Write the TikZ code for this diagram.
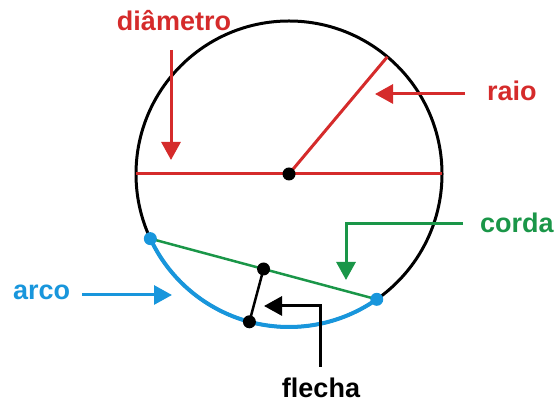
\documentclass[tikz,border=0pt]{standalone}
\usepackage{fontspec}
\setmainfont{Liberation Sans}
\usepackage{tikz}
\usetikzlibrary{arrows.meta,calc}
\definecolor{DiamRed}{RGB}{213,43,43}
\definecolor{ChordGreen}{RGB}{26,150,72}
\definecolor{ArcBlue}{RGB}{24,150,220}
\newcommand{\bigdot}[2]{%
    \fill[#1] (#2) circle (6.5);
}

\begin{document}
\begin{tikzpicture}[x=1pt,y=1pt,
        word/.style={font=\fontsize{27}{30}\selectfont\bfseries,inner sep=0pt},
        pointer/.style={line width=3pt,-{Triangle[length=18pt,width=19pt]}}]
    \useasboundingbox (0,0) rectangle (559,403);
    % circle and its parts
    \coordinate (O) at (289,229);
    \coordinate (W) at ($(O)+(180:153)$);
    \coordinate (E) at ($(O)+(0:153)$);
    \coordinate (R) at ($(O)+(50:153)$);
    \coordinate (A) at ($(O)+(205:153)$);
    \coordinate (B) at ($(O)+(305:153)$);
    \coordinate (M) at ($(A)!0.5!(B)$);
    \coordinate (N) at ($(O)+(255:153)$);
    \draw[line width=3pt] (O) circle (153);
    \draw[DiamRed,line width=3pt] (W) -- (E);
    \draw[DiamRed,line width=3pt] (O) -- (R);
    \draw[ArcBlue,line width=4pt] (A) arc (205:305:153);
    \draw[ChordGreen,line width=2.5pt] (A) -- (B);
    \draw[line width=2.5pt] (M) -- (N);
    \bigdot{black}{O}
    \bigdot{black}{M}
    \bigdot{black}{N}
    \bigdot{ArcBlue}{A}
    \bigdot{ArcBlue}{B}
    % labels
    \node[word,text=DiamRed,anchor=base] (diametro) at (174,372) {diâmetro};
    \node[word,text=DiamRed,anchor=base west] (raio) at (487,302) {raio};
    \node[word,text=ChordGreen,anchor=base west] (corda) at (480,170) {corda};
    \node[word,text=ArcBlue,anchor=base west] (arco) at (13,103) {arco};
    \node[word,anchor=base] (flecha) at (321,5) {flecha};
    % pointers
    \coordinate (diamtail) at (171,353);
    \coordinate (diamtip) at (171,243);
    \coordinate (raiotail) at (465,309);
    \coordinate (raiotip) at (375,309);
    \coordinate (cordatail) at (463,179);
    \coordinate (cordatip) at (346,123);
    \coordinate (arcotail) at (82,108);
    \coordinate (arcotip) at (172,108);
    \coordinate (flechatail) at (320,36);
    \coordinate (flechatip) at (264,97);
    \draw[pointer,DiamRed] (diamtail) -- (diamtip);
    \draw[pointer,DiamRed] (raiotail) -- (raiotip);
    \draw[pointer,ChordGreen] (cordatail) -| (cordatip);
    \draw[pointer,ArcBlue] (arcotail) -- (arcotip);
    \draw[pointer,black] (flechatail) |- (flechatip);
\end{tikzpicture}
\end{document}
